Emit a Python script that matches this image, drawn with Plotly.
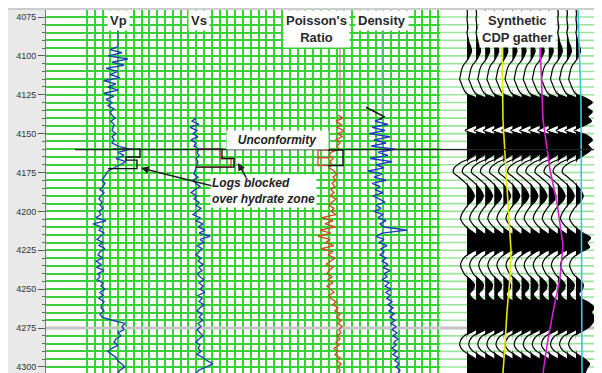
import numpy as np
import plotly.graph_objects as go

# ---------------- data ----------------
vp_start, vp_step = 4094, 2
vp = [2.36, 2.20, 2.44, 2.16, 2.56, 2.24, 2.48, 2.12, 2.36, 2.20, 2.40, 2.08, 2.32, 2.16, 2.36, 2.08,
      2.28, 2.12, 2.24, 2.16, 2.28, 2.20, 2.24, 2.30, 2.22, 2.28, 2.26, 2.24, 2.32, 2.24, 2.28, 2.24,
      2.36, 2.60, 2.36, 2.48, 2.32, 2.52, 2.40, 2.28, 2.16,
      2.12, 2.08, 2.04, 2.10, 2.06, 2.00, 2.08, 2.02, 1.98, 2.04, 2.00, 2.06, 1.98, 2.02, 1.92, 2.12,
      1.86, 2.04, 1.98, 2.08, 2.00, 1.94, 2.06, 1.98, 2.10, 2.00, 1.96, 2.06, 1.92, 2.02, 1.94, 2.08,
      1.96, 2.00, 1.94, 2.06, 2.02, 2.10, 2.00, 2.06, 1.98, 2.08, 2.04, 2.02, 2.08, 2.00, 2.04,
      2.24, 2.50, 2.44, 2.48, 2.36, 2.42, 2.32, 2.28, 2.36, 2.24, 2.16, 2.24, 2.32, 2.36, 2.44, 2.50,
      2.40, 2.36]
vp_top_depth = [4082, 4094]
vp_top = [2.36, 2.36]
vp_blk_depth = [4160, 4160, 4165, 4165, 4167, 4167, 4172.5, 4172.5]
vp_blk = [2.26, 2.80, 2.80, 2.52, 2.52, 2.74, 2.74, 2.16]

vs_start, vs_step = 4140, 2
vs = [0.81, 0.77, 0.84, 0.75, 0.82, 0.78, 0.83, 0.76, 0.81, 0.79, 0.84, 0.82, 0.84, 0.81, 0.83, 0.82,
      0.81, 0.80, 0.79, 0.83, 0.78, 0.81, 0.85, 0.80, 0.76, 0.82, 0.79, 0.84, 0.81, 0.86, 0.82, 0.78,
      0.85, 0.81, 0.88, 0.83, 0.90, 0.84, 0.95, 0.85, 0.89, 0.82, 0.87, 0.84, 0.81, 0.86, 0.83, 0.88,
      0.84, 0.87, 0.82, 0.85, 0.89, 0.84, 0.88, 0.85, 0.90, 0.83, 0.87, 0.84, 0.89, 0.85, 0.82, 0.87,
      0.84, 0.88, 0.83, 0.86, 0.82, 0.85, 0.88, 0.84, 0.81, 0.85, 0.83, 0.86, 0.82, 0.88, 0.92, 0.98,
      0.90, 0.84, 0.81]
vs_blk_depth = [4160, 4160, 4166, 4166, 4171.5, 4171.5]
vs_blk_black = [0.84, 1.07, 1.07, 1.19, 1.19, 0.81]
vs_blk_red = [0.84, 1.05, 1.05, 1.16, 1.16, 0.81]

pr_start, pr_step = 4138, 2
pr = [0.415, 0.44, 0.405, 0.43, 0.41, 0.445, 0.415, 0.435, 0.405, 0.425, 0.41, 0.42, 0.38, 0.37,
      0.39, 0.375, 0.385, 0.37, 0.395, 0.41, 0.39, 0.405, 0.385, 0.40, 0.38, 0.395, 0.375, 0.405,
      0.385, 0.37, 0.395, 0.38, 0.405, 0.335, 0.39, 0.35, 0.40, 0.325, 0.38, 0.315, 0.375, 0.355,
      0.395, 0.33, 0.39, 0.365, 0.40, 0.375, 0.355, 0.39, 0.37, 0.36, 0.385, 0.365, 0.39, 0.36,
      0.375, 0.395, 0.37, 0.38, 0.405, 0.39, 0.415, 0.40, 0.425, 0.41, 0.43, 0.415, 0.435, 0.42,
      0.43, 0.41, 0.425, 0.405, 0.42, 0.395, 0.415, 0.40, 0.425, 0.41, 0.43, 0.415, 0.425, 0.42]
pr_top_depth = [4090, 4136]
pr_top = [0.425, 0.425]
pr_blk_red_depth = [4160.5, 4160.5, 4165.5, 4165.5, 4165.5, 4170.5, 4170.5]
pr_blk_red = [0.375, 0.315, 0.315, 0.375, 0.315, 0.315, 0.375]
pr_blk_black_depth = [4160.5, 4160.5, 4170.5, 4170.5]
pr_blk_black = [0.365, 0.44, 0.44, 0.365]

rho_start, rho_step = 4140, 2
rho = [2.12, 2.05, 2.18, 2.02, 2.15, 1.99, 2.20, 2.04, 2.16, 2.01, 2.25, 2.08, 2.18, 2.00, 2.22, 2.06,
       2.14, 1.98, 2.12, 2.04, 2.16, 2.02, 2.10, 2.05, 2.13, 2.03, 2.09, 2.15, 2.06, 2.11, 2.04, 2.13,
       2.08, 2.16, 2.10, 2.14, 2.37, 2.12, 2.06, 2.14, 2.09, 2.17, 2.11, 2.14, 2.10, 2.16, 2.12, 2.18,
       2.13, 2.20, 2.14, 2.17, 2.12, 2.19, 2.15, 2.21, 2.16, 2.20, 2.17, 2.22, 2.18, 2.23, 2.19, 2.24,
       2.20, 2.25, 2.21, 2.26, 2.22, 2.27, 2.23, 2.28, 2.24, 2.26, 2.22, 2.27, 2.23, 2.28, 2.25, 2.29,
       2.26, 2.30, 2.28]
rho_head_depth = [4133, 4135, 4137, 4139, 4141]
rho_head = [1.96, 2.02, 2.08, 2.14, 2.10]
rho_top_depth = [4082, 4138]
rho_top = [2.12, 2.12]

# synthetic CDP gather: one stacked waveform (amplitude in trace spacings) + trace numbers
gather_start, gather_step = 4070, 3
gather_amp = [0.0, 0.05, 0.0, 0.05, 0.1, 0.0, 0.1, 0.2, 0.4, 0.5, 0.3, 0.0, -0.4, -0.6, -0.7, -0.8,
              -0.6, -0.4, -0.1, 1.0, 1.8, 1.2, 1.8, 1.3, 1.7, 0.8, -0.2, 1.2, 1.8, 1.3, 1.7, 1.1,
              0.3, -0.8, -1.4, -1.5, -0.9, -0.3, 0.2, 0.6, 0.8, 0.6, 0.1, -0.3, -0.6, -0.7, -0.4,
              0.1, 0.8, 1.6, 1.2, 1.5, 0.6, -0.2, -0.6, -0.7, -0.5, -0.2, 0.4, 0.8, 0.7, 0.3, 0.6,
              1.5, 2.0, 1.7, 2.1, 1.9, 1.5, 0.7, -0.3, -0.7, -0.8, -0.5, 0.2, 1.0, 1.5, 1.2, 1.0]
trace_numbers = list(range(1, 14))

yellow_depth = [4091.7, 4128.4, 4141.2, 4184.3, 4224.8, 4242.8, 4264.7, 4285.9, 4303.9]
yellow_trace = [4.85, 4.96, 4.96, 5.40, 5.84, 5.73, 5.40, 5.18, 4.96]
magenta_depth = [4091.7, 4128.4, 4141.2, 4173.4, 4194.6, 4221.6, 4242.8, 4264.7, 4285.9, 4303.9]
magenta_trace = [9.04, 9.26, 9.37, 10.14, 10.91, 11.57, 11.24, 10.47, 9.81, 9.37]
cyan_depth = [4070.5, 4130, 4303.9]
cyan_trace = [13.22, 13.55, 13.66]

unconformity_depth = 4160.3
marker_depth = 4275
depth_ticks_start, depth_tick_step, depth_minor_step = 4075, 25, 5

# ---------------- layout helpers ----------------
# page pixels of the plot area (the page body adds an 8 px offset to the figure)
BODY = 8
L, R, SPLIT = 46, 602, 440
T, B = 10, 373
W_PLOT = R - L
H_PLOT = B - T
Y_RANGE = [4303.9, 4070.5]
GREEN = '#38d238'
PALE_GREEN = '#9be39b'
SPLIT_FRAC = (SPLIT - L) / W_PLOT


def span(v_ref, px_ref, px_per_unit, lo, hi):
    return [v_ref - (px_ref - lo) / px_per_unit, v_ref + (hi - px_ref) / px_per_unit]


def depths(start, step, n):
    return start + step * np.arange(n)


def paper_x(px):
    return (px - L) / W_PLOT


x6_range = span(1, 467, 9.083, SPLIT, R)

fig = go.Figure()

# invisible anchors so the grid overlay axes exist
for xa, ya in [('x', 'y2'), ('x', 'y4'), ('x7', 'y')]:
    fig.add_trace(go.Scatter(x=[L], y=[Y_RANGE[1]], xaxis=xa, yaxis=ya,
                             mode='markers', marker=dict(opacity=0), hoverinfo='skip',
                             showlegend=False))

# pale depth grid behind the gather panel
pale_depths = np.arange(4070, 4305, depth_minor_step)
pale_x, pale_y = [], []
for d in pale_depths:
    pale_x += [x6_range[0], x6_range[1], None]
    pale_y += [d, d, None]
fig.add_trace(go.Scatter(x=pale_x, y=pale_y, xaxis='x6', yaxis='y', mode='lines',
                         line=dict(color=PALE_GREEN, width=1.6), hoverinfo='skip',
                         showlegend=False))

# gray depth marker across both panels
fig.add_trace(go.Scatter(x=[L, SPLIT], y=[marker_depth, marker_depth], mode='lines',
                         line=dict(color='#c4c4c4', width=3), hoverinfo='skip', showlegend=False))
fig.add_trace(go.Scatter(x=x6_range, y=[marker_depth, marker_depth], xaxis='x6', yaxis='y',
                         mode='lines', line=dict(color='#c4c4c4', width=3), hoverinfo='skip',
                         showlegend=False))

LOG_BLUE = '#2140b4'


def add_line(x, y, axis, color, width, yaxis='y'):
    fig.add_trace(go.Scatter(x=x, y=y, xaxis=axis, yaxis=yaxis, mode='lines',
                             line=dict(color=color, width=width),
                             hoverinfo='skip', showlegend=False))


# Vp
add_line(vp_top, vp_top_depth, 'x2', '#3b4f9a', 1)
add_line(vp, depths(vp_start, vp_step, len(vp)), 'x2', LOG_BLUE, 1.4)
add_line(vp_blk, vp_blk_depth, 'x2', '#111111', 1.4)
# Vs
add_line(vs, depths(vs_start, vs_step, len(vs)), 'x3', LOG_BLUE, 1.4)
add_line(vs_blk_red, vs_blk_depth, 'x3', '#d8474a', 1.4)
add_line(vs_blk_black, vs_blk_depth, 'x3', '#111111', 1.4)
# Poisson's ratio
add_line(pr_top, pr_top_depth, 'x4', '#b07040', 1)
add_line(pr, depths(pr_start, pr_step, len(pr)), 'x4', '#d04a26', 1.4)
add_line(pr_blk_red, pr_blk_red_depth, 'x4', '#d8474a', 1.4)
add_line(pr_blk_black, pr_blk_black_depth, 'x4', '#111111', 1.4)
# Density
add_line(rho_top, rho_top_depth, 'x5', '#8aa2cc', 1)
add_line(rho, depths(rho_start, rho_step, len(rho)), 'x5', '#2234c8', 1.4)
add_line(rho_head, rho_head_depth, 'x5', '#111111', 1.6)

# Synthetic gather: wiggle traces with positive lobes filled black
amp = np.array(gather_amp, dtype=float)
gdepth = depths(gather_start, gather_step, len(amp))
for t in trace_numbers:
    fig.add_trace(go.Scatter(x=np.full(len(amp), float(t)), y=gdepth, xaxis='x6', yaxis='y',
                             mode='lines', line=dict(width=0, color='rgba(0,0,0,0)'),
                             hoverinfo='skip', showlegend=False))
    fig.add_trace(go.Scatter(x=t + np.clip(amp, 0, None), y=gdepth, xaxis='x6', yaxis='y',
                             mode='lines',
                             line=dict(width=0, color='black', shape='spline', smoothing=0.8),
                             fill='tonextx', fillcolor='black', hoverinfo='skip', showlegend=False))
    fig.add_trace(go.Scatter(x=t + amp, y=gdepth, xaxis='x6', yaxis='y', mode='lines',
                             line=dict(color='black', width=1.2, shape='spline', smoothing=0.8),
                             hoverinfo='skip', showlegend=False))

add_line(yellow_trace, yellow_depth, 'x6', '#e6e600', 1.6)
add_line(magenta_trace, magenta_depth, 'x6', '#d21fd2', 1.6)
add_line(cyan_trace, cyan_depth, 'x6', '#38c8dc', 1.6)

# ---------------- axes ----------------
grid_px = 87 + 7.8 * np.arange(46)
major_px = grid_px[::5]

ov = dict(overlaying='x', anchor='y', visible=False, showgrid=False, zeroline=False,
          automargin=False)
bare = dict(showticklabels=False, ticks='', showline=False, zeroline=False, automargin=False)
ygrid = dict(range=Y_RANGE, overlaying='y', side='left', tickmode='linear',
             tick0=depth_ticks_start, showgrid=True, showline=False, zeroline=False,
             showticklabels=False, automargin=False)
fig.update_layout(
    template='none',
    width=602, height=373,
    margin=dict(l=L - BODY, r=602 - R + BODY, t=T - BODY, b=373 - B + BODY, pad=0,
                autoexpand=False),
    paper_bgcolor='#e9e9e9', plot_bgcolor='white',
    hovermode=False, showlegend=False,
    xaxis=dict(range=[L, SPLIT], domain=[0, SPLIT_FRAC], tickmode='array',
               tickvals=list(grid_px), showgrid=True, gridcolor=GREEN, gridwidth=1.6, **bare),
    xaxis7=dict(range=[L, SPLIT], overlaying='x', anchor='y', tickmode='array',
                tickvals=list(major_px), showgrid=True, gridcolor=GREEN, gridwidth=2.2, **bare),
    xaxis2=dict(range=span(2.0, 100, 50, L, SPLIT), **ov),
    xaxis3=dict(range=span(0.80, 195, 100, L, SPLIT), **ov),
    xaxis4=dict(range=span(0.40, 335, 200, L, SPLIT), **ov),
    xaxis5=dict(range=span(2.10, 380, 100, L, SPLIT), **ov),
    xaxis6=dict(range=x6_range, domain=[SPLIT_FRAC, 1], anchor='y', showgrid=False, **bare),
    yaxis=dict(range=Y_RANGE, tickmode='linear', tick0=depth_ticks_start,
               dtick=depth_tick_step, showgrid=False,
               zeroline=False, ticks='outside', ticklen=7, tickcolor='#555', tickwidth=1,
               showline=True, linecolor='#777', linewidth=1, automargin=False,
               tickfont=dict(family='Liberation Sans, Arial', size=9, color='#333')),
    yaxis2=dict(anchor='x', dtick=depth_minor_step, gridcolor=GREEN, gridwidth=1.5,
                ticks='outside', ticklen=3, tickcolor='#666', **ygrid),
    yaxis4=dict(anchor='x', dtick=depth_tick_step, gridcolor=GREEN, gridwidth=2.2,
                ticks='', **ygrid),
)

# ---------------- shapes ----------------
fig.add_shape(type='rect', xref='paper', yref='paper', x0=-L / W_PLOT, x1=1.1,
              y0=1, y1=1 + T / H_PLOT, fillcolor='white', line=dict(width=0), layer='below')
fig.add_shape(type='line', xref='paper', yref='paper', x0=-L / W_PLOT, x1=1.1,
              y0=1 + 1 / H_PLOT, y1=1 + 1 / H_PLOT, line=dict(color='#9a9a9a', width=1))
fig.add_shape(type='line', xref='paper', yref='y', x0=paper_x(75), x1=1, y0=unconformity_depth,
              y1=unconformity_depth, line=dict(color='#222', width=1.3), layer='above')

# ---------------- annotations ----------------
TF = dict(family='Liberation Sans, Arial', size=13, color='#2a2a2a')
for txt, xc in [('Vp', 118), ('Vs', 199), ("Poisson's<br>Ratio", 316), ('Density', 382),
                ('Synthetic<br>CDP gather', 517)]:
    fig.add_annotation(text='<b>%s</b>' % txt.replace('<br>', '</b><br><b>'), xref='paper',
                       yref='paper', x=paper_x(xc), y=1, xanchor='center', yanchor='top',
                       showarrow=False, bgcolor='white', borderpad=2, font=TF)

IF = dict(family='Liberation Sans, Arial', size=12, color='#222')
fig.add_annotation(text='<b><i>Unconformity</i></b>', xref='x', yref='y', x=277, y=4154.1,
                   showarrow=False, bgcolor='white', width=99, height=16, font=IF)
fig.add_annotation(text='<b><i>Logs blocked</i></b><br><b><i>over hydrate zone</i></b>',
                   xref='x', yref='y', x=210, y=4186.8, xanchor='left', align='left',
                   showarrow=False, bgcolor='white', borderpad=1, font=IF)
for hx, hy, tx, ty in [(141, 4172.1, 213, 4183.7), (238, 4168.9, 247, 4179.2)]:
    fig.add_annotation(text='', xref='x', yref='y', x=hx, y=hy, axref='x', ayref='y', ax=tx, ay=ty,
                       showarrow=True, arrowhead=2, arrowsize=1, arrowwidth=1.5, arrowcolor='#222')

fig.write_html('out.html')
